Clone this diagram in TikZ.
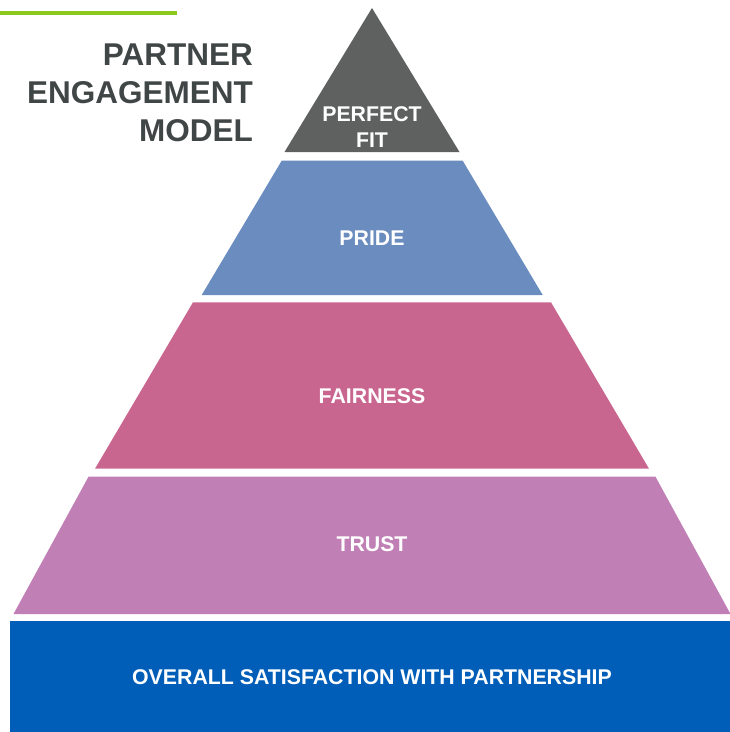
\documentclass[tikz,border=0pt]{standalone}
\usepackage{fontspec}
\setmainfont{Liberation Sans}
\definecolor{accentgreen}{HTML}{8DC81E}
\definecolor{titlegray}{HTML}{404545}
\definecolor{fitgray}{HTML}{5F6060}
\definecolor{prideblue}{HTML}{6A8CBE}
\definecolor{fairpink}{HTML}{C9668F}
\definecolor{trustmauve}{HTML}{C080B5}
\definecolor{baseblue}{HTML}{005EB8}
\tikzset{
  layerlabel/.style={text=white, font=\fontsize{21.3}{26}\selectfont\bfseries, align=center, inner sep=0pt},
  titleline/.style={text=titlegray, font=\fontsize{31.5}{38}\selectfont\bfseries, anchor=base east, inner sep=0pt},
}
\begin{document}
\begin{tikzpicture}[x=1pt, y=-1pt]
  \useasboundingbox (0,0) rectangle (730,732);

  % accent bar and heading
  \fill[accentgreen] (0,11) rectangle (177,15);
  \node[titleline] (t1) at (253,65) {PARTNER};
  \node[titleline] (t2) at (253,103) {ENGAGEMENT};
  \node[titleline] (t3) at (253,141) {MODEL};

  % pyramid layers
  \fill[fitgray] (372,8) -- (459.5,152) -- (284.5,152) -- cycle;
  \fill[prideblue] (281.7,160.7) -- (462.7,160.7) -- (542.7,295) -- (201.7,295) -- cycle;
  \fill[fairpink] (193,302.3) -- (551,302.3) -- (649,468.7) -- (95,468.7) -- cycle;
  \fill[trustmauve] (88.5,476.7) -- (655.5,476.7) -- (730.5,614) -- (13.5,614) -- cycle;
  \fill[baseblue] (10,621) rectangle (730,732);

  % layer labels
  \node[layerlabel] (fit) at (372,127) {PERFECT\\FIT};
  \node[layerlabel] (pride) at (372,238) {PRIDE};
  \node[layerlabel] (fair) at (372,396) {FAIRNESS};
  \node[layerlabel] (trust) at (372,544) {TRUST};
  \node[layerlabel] (overall) at (372,677) {OVERALL SATISFACTION WITH PARTNERSHIP};
\end{tikzpicture}
\end{document}
